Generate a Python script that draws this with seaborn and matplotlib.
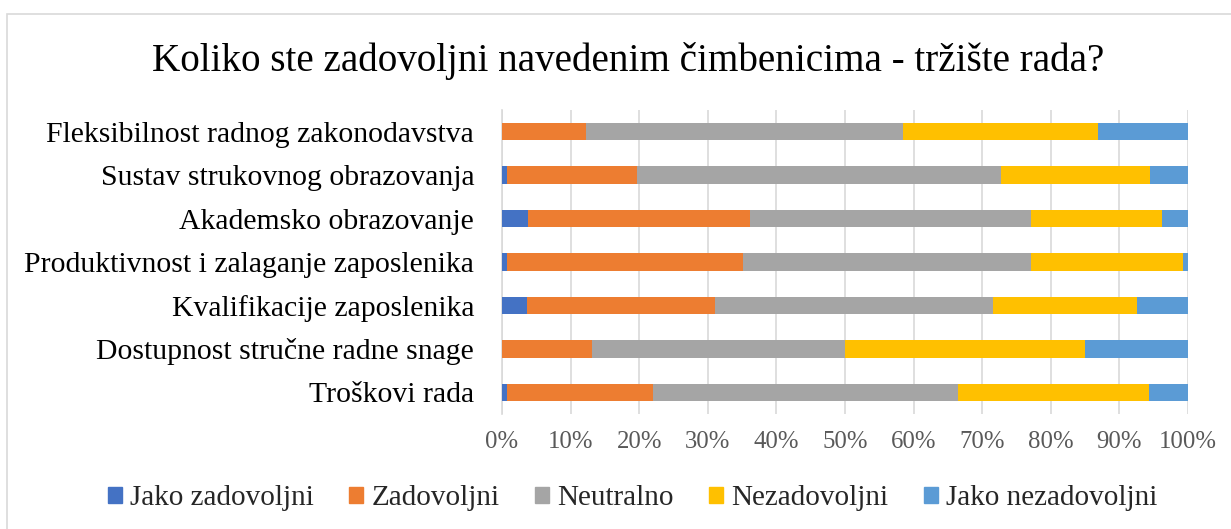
import numpy as np
import pandas as pd
import matplotlib
matplotlib.use('Agg')
import matplotlib.pyplot as plt
import matplotlib.patches as mpatches
import seaborn as sns

# categories top to bottom
factors = ['Fleksibilnost radnog zakonodavstva', 'Sustav strukovnog obrazovanja',
           'Akademsko obrazovanje', 'Produktivnost i zalaganje zaposlenika',
           'Kvalifikacije zaposlenika', 'Dostupnost stručne radne snage', 'Troškovi rada']

# shares in %
jako_zadovoljni = [0.0, 0.8, 3.8, 0.8, 3.6, 0.0, 0.8]
zadovoljni = [12.2, 18.9, 32.4, 34.3, 27.4, 13.1, 21.2]
neutralno = [46.3, 53.0, 40.9, 42.0, 40.6, 36.9, 44.4]
nezadovoljni = [28.4, 21.7, 19.1, 22.1, 20.9, 35.0, 27.9]
jako_nezadovoljni = [13.1, 5.6, 3.8, 0.8, 7.5, 15.0, 5.7]

series = ['Jako zadovoljni', 'Zadovoljni', 'Neutralno', 'Nezadovoljni', 'Jako nezadovoljni']
colors = ['#4472C4', '#ED7D31', '#A5A5A5', '#FFC000', '#5B9BD5']

sns.set_style('white')
plt.rcParams['font.family'] = ['Liberation Serif', 'DejaVu Serif']

df = pd.DataFrame({'Factor': factors, series[0]: jako_zadovoljni, series[1]: zadovoljni,
                   series[2]: neutralno, series[3]: nezadovoljni, series[4]: jako_nezadovoljni})
# normalise to 100% and stack
vals = df[series].to_numpy()
vals = vals / vals.sum(axis=1, keepdims=True)
cum = np.cumsum(vals, axis=1)

fig = plt.figure(figsize=(12.31, 5.29), dpi=100)
ax = fig.add_axes([502 / 1231, 1 - 414 / 529, 686 / 1231, 304 / 529])

# draw from the longest cumulative bar to the shortest so each overlays the last
for i in reversed(range(len(series))):
    tmp = pd.DataFrame({'Factor': factors, 'val': cum[:, i]})
    sns.barplot(data=tmp, x='val', y='Factor', order=factors, color=colors[i],
                width=0.4, saturation=1, linewidth=0, ax=ax, zorder=3)

ax.set_xlim(0, 1)
ax.set_xticks(np.arange(0, 1.01, 0.1))
ax.set_xticklabels([f'{int(round(t * 100))}%' for t in np.arange(0, 1.01, 0.1)])
ax.grid(axis='x', color='#D9D9D9', linewidth=1.2, zorder=0)
ax.grid(axis='y', visible=False)
ax.set_xlabel('')
ax.set_ylabel('')
for s in ['top', 'right', 'bottom']:
    ax.spines[s].set_visible(False)
ax.spines['left'].set_color('#D9D9D9')
ax.spines['left'].set_linewidth(1.2)
ax.tick_params(axis='y', length=0, pad=20, labelsize=21.4, labelcolor='#000000')
ax.tick_params(axis='x', length=0, pad=12, labelsize=17.8, labelcolor='#595959')

fig.text(0.51, 1 - 61 / 529, 'Koliko ste zadovoljni navedenim čimbenicima - tržište rada?',
         ha='center', va='center', fontsize=28.2, color='#000000')

handles = [mpatches.Patch(color=c, label=s) for s, c in zip(series, colors)]
fig.legend(handles=handles, loc='center', bbox_to_anchor=(0.514, 1 - 498 / 529), ncol=5,
           frameon=False, fontsize=21, handlelength=0.48, handleheight=0.48,
           handletextpad=0.28, columnspacing=1.22)

# outer chart border (top and left only visible in the crop)
fig.patches.append(mpatches.Rectangle((7 / 1231, -0.1), 1.1, 1 - 14 / 529 + 0.1,
                                      transform=fig.transFigure, fill=False,
                                      edgecolor='#D9D9D9', linewidth=1.2))

fig.savefig('out.png', dpi=100)
